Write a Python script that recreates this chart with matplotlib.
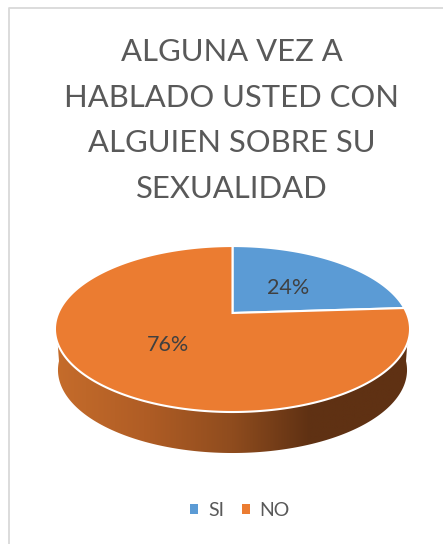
import numpy as np
import matplotlib
matplotlib.use("Agg")
import matplotlib.pyplot as plt
from matplotlib.colors import LinearSegmentedColormap
from matplotlib.patches import Polygon, Rectangle

plt.rcParams['font.family'] = ['Lato', 'DejaVu Sans']

title = "ALGUNA VEZ A\nHABLADO USTED CON\nALGUIEN SOBRE SU\nSEXUALIDAD"
categories = ["SI", "NO"]
values = [24, 76]
colors = ["#5B9BD5", "#EB7C31"]

W, H = 443, 544
CX, CY = 232.5, 313
A, B, K = 174.2, 79.9, 0.193
DEPTH = 41


# tilted disc: perspective puts the apex above the middle of the ellipse
def project(theta, r=1.0, scale=1.0, drop=0):
    t = np.radians(theta)
    d = 1 + K * r * np.sin(t)
    return CX + scale * A * r * np.cos(t) / d, CY - B * r * np.sin(t) / d + drop


def wedge_poly(t1, t2):
    th = np.linspace(t1, t2, 300)
    x, y = project(th)
    return np.r_[[[CX, CY]], np.c_[x, y]]


fig = plt.figure(figsize=(W / 100, H / 100), dpi=100)
ax = fig.add_axes([0, 0, 1, 1])
ax.set_xlim(0, W)
ax.set_ylim(H, 0)
ax.axis("off")

# chart frame
ax.plot([9, 9, W], [H, 7.5, 7.5], color="#D9D9D9", lw=1.3)

# side wall
th = np.linspace(185, 355, 300)
x1, y1 = project(th)
x2, y2 = project(th[::-1], scale=0.983, drop=DEPTH)
side = Polygon(np.c_[np.r_[x1, x2], np.r_[y1, y2]], closed=True, fc="none", ec="none")
ax.add_patch(side)
shade = LinearSegmentedColormap.from_list("shade", [
    (0.0, "#C56C2B"), (0.25, "#B05D25"), (0.5, "#8F4C1E"),
    (0.72, "#5F3113"), (1.0, "#5F3113")])
im = ax.imshow(np.linspace(0, 1, 256)[None, :], cmap=shade, aspect="auto",
               extent=[56, 409, 460, 320], zorder=1)
ax.set_xlim(0, W)
ax.set_ylim(H, 0)
im.set_clip_path(side)

# top face, clockwise from 12 o'clock
start = 90.0
total = sum(values)
for val, col in zip(values, colors):
    end = start - 360.0 * val / total
    ax.add_patch(Polygon(wedge_poly(start, end), closed=True, fc=col, ec="white",
                         lw=1.5, joinstyle="miter", zorder=2))
    start = end

ax.text(288, 287.5, f"{values[0]}%", color="#404040", fontsize=15.5,
        ha="center", va="center", zorder=3)
ax.text(168.5, 345, f"{values[1]}%", color="#404040", fontsize=15.5,
        ha="center", va="center", zorder=3)

ax.text(232, 120.5, title, color="#595959", fontsize=22.3, ha="center", va="center",
        linespacing=1.78, zorder=3)

handles = [Rectangle((0, 0), 1, 1, fc=c, ec="none") for c in colors]
ax.legend(handles, categories, loc="center", bbox_to_anchor=(240 / W, 1 - 510.5 / H),
          ncols=2, frameon=False, fontsize=14, labelcolor="#595959",
          handlelength=0.42, handleheight=0.42, handletextpad=0.5, columnspacing=0.9)

fig.savefig("out.png", dpi=100, facecolor="white")
